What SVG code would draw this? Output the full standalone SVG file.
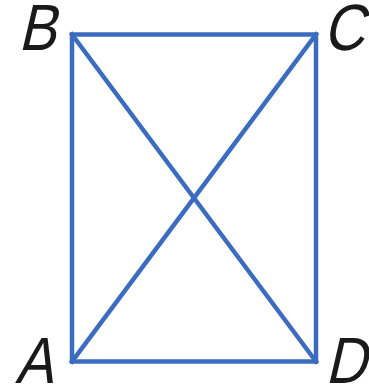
<svg xmlns="http://www.w3.org/2000/svg" width="369" height="388" viewBox="0 0 369 388">
<style>
.e{stroke:#3b6cc0;stroke-width:4.5;fill:none;stroke-linecap:square}
.l{font-family:"Liberation Sans",Arial,sans-serif;font-size:57px;fill:#1a1a1a}
</style>
<rect width="369" height="388" fill="#fff"/>
<g id="connectors">
<path class="e" d="M72,34.5H316V361.5H72Z"/>
<path class="e" d="M72,34.5L316,361.5M316,34.5L72,361.5"/>
</g>
<g id="B"><text class="l" transform="translate(18,50) skewX(-13) scale(1,1.15)">B</text></g>
<g id="C"><text class="l" transform="translate(323,50) skewX(-13) scale(1,1.15)">C</text></g>
<g id="A"><text class="l" transform="translate(15,383) skewX(-13) scale(1,1.15)">A</text></g>
<g id="D"><text class="l" transform="translate(325,383) skewX(-13) scale(1,1.15)">D</text></g>
</svg>
